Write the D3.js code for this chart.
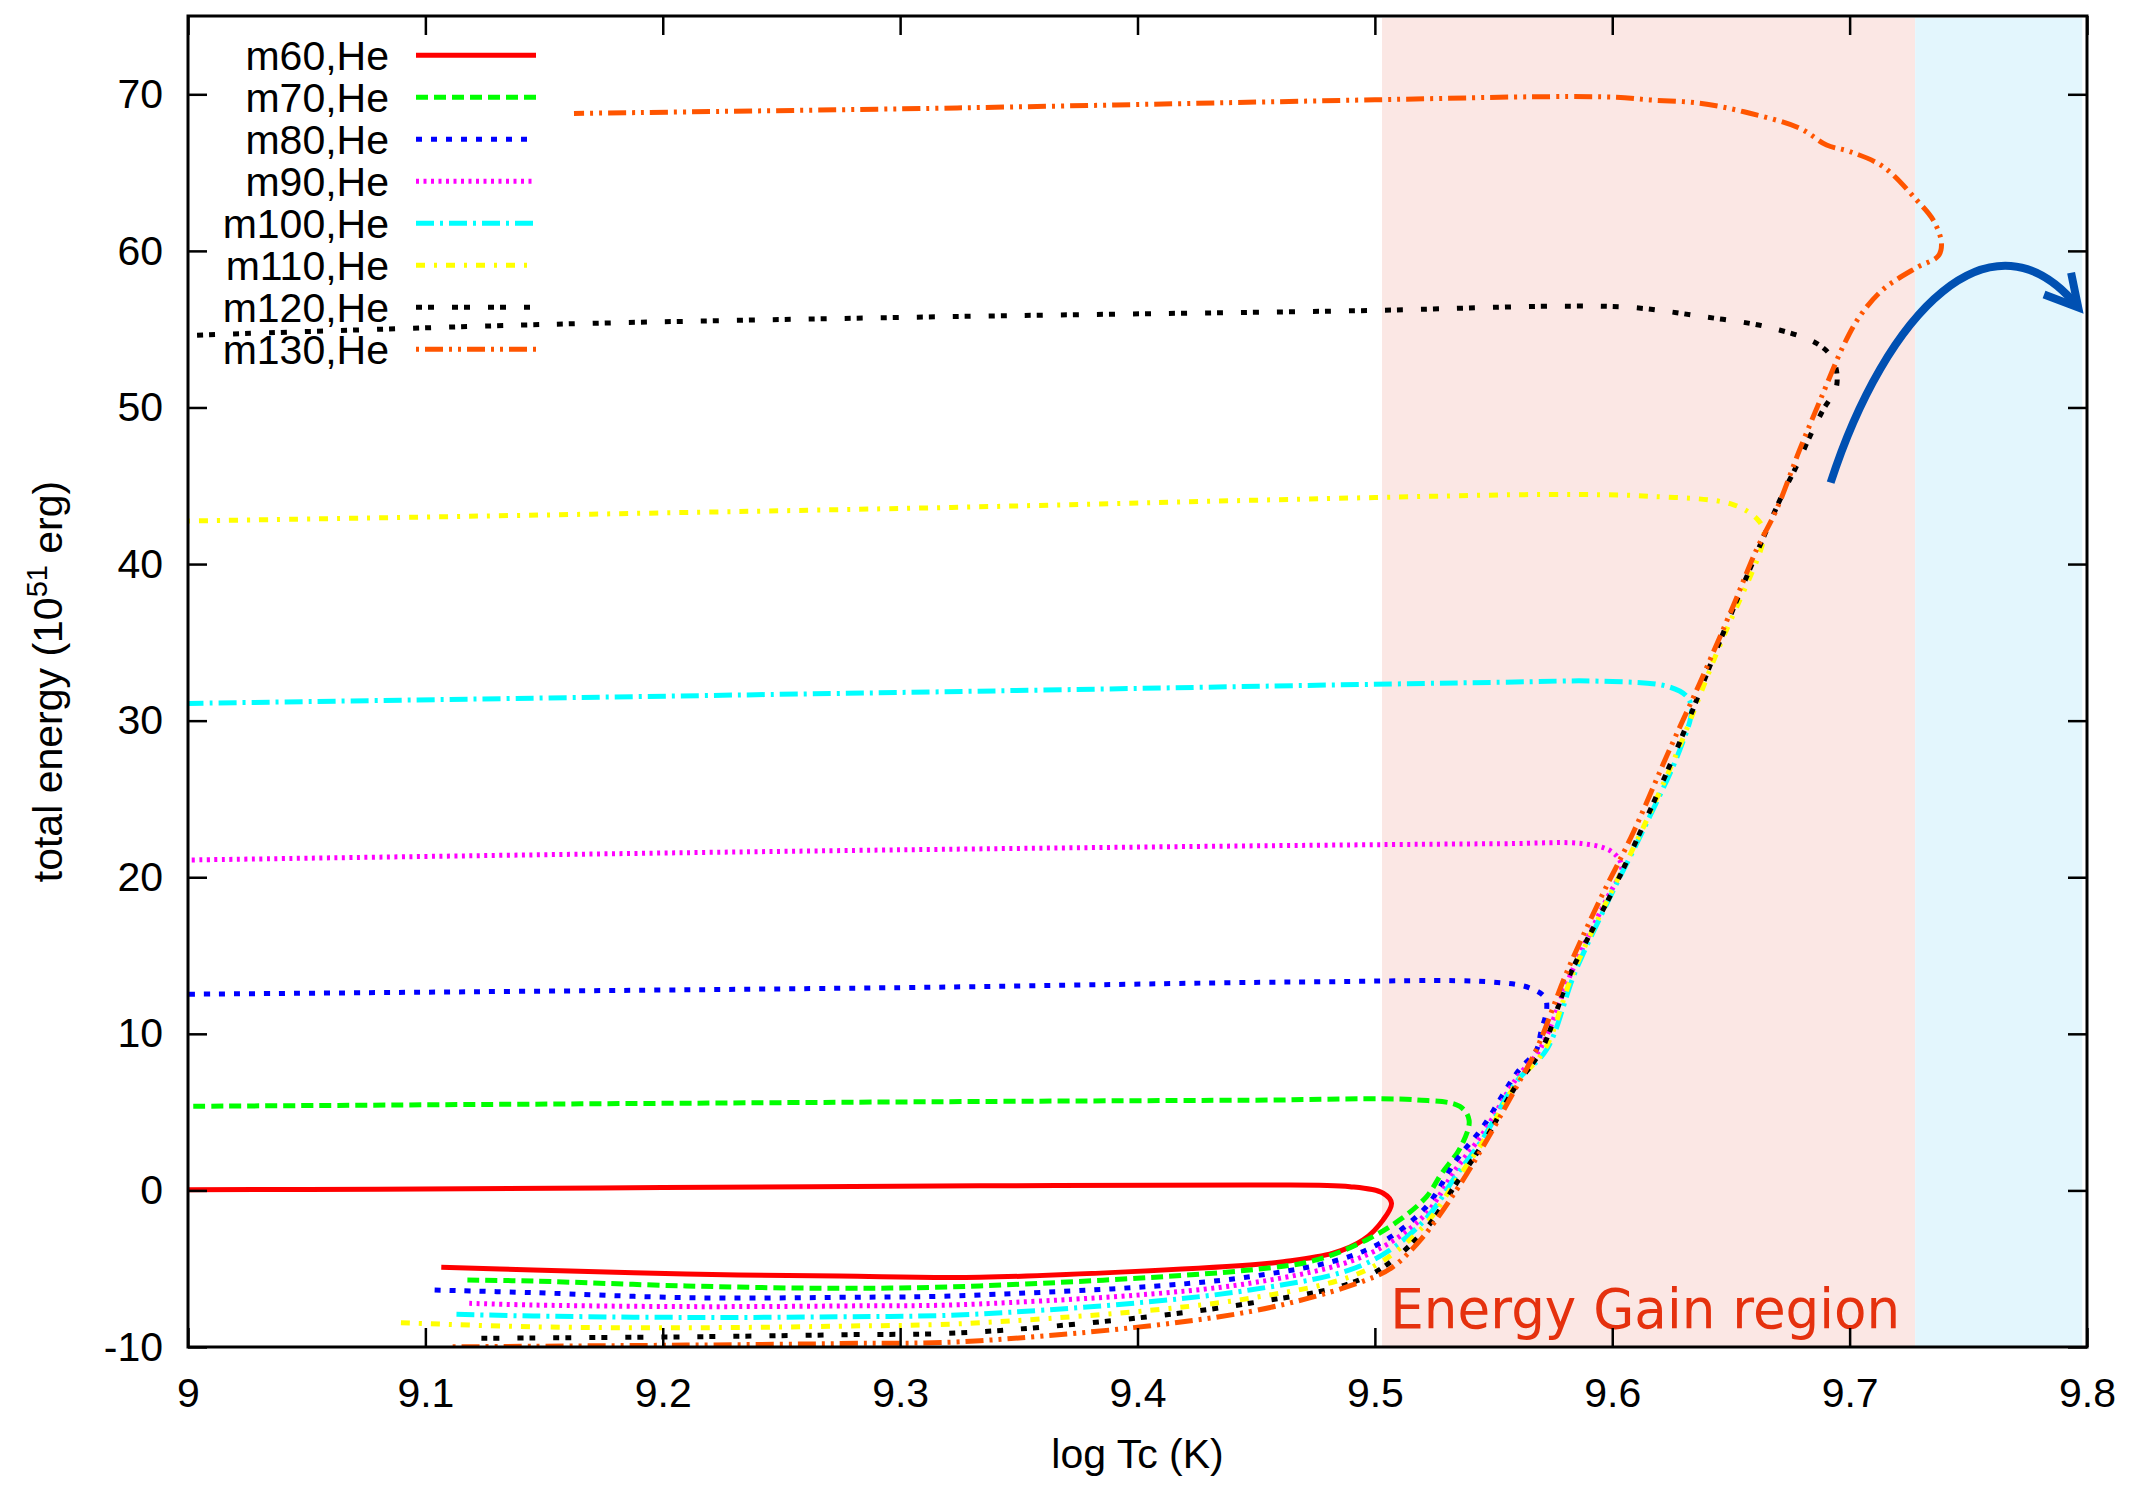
<!DOCTYPE html>
<html>
<head>
<meta charset="utf-8">
<script src="https://cdn.jsdelivr.net/npm/d3@7"></script>
<style>
  body { margin: 0; background: #ffffff; }
  svg { display: block; }
</style>
</head>
<body>
<svg id="chart" width="2145" height="1493"></svg>
<script>
// ---- data: total energy (1e51 erg) versus log central temperature ----
const seriesNames = ["m60,He", "m70,He", "m80,He", "m90,He", "m100,He", "m110,He", "m120,He", "m130,He"];

const m60 = [[9.1067,-4.91],[9.1454,-5.08],[9.2098,-5.34],[9.2743,-5.47],[9.3336,-5.55],[9.4473,-4.76],[9.4614,-4.55],[9.4824,-4.01],[9.4951,-3.16],[9.5035,-1.88],[9.507,-0.82],[9.5035,-0.18],[9.4895,0.24],[9.4473,0.35],[9.3336,0.29],[9.2,0.18],[9.08,0.08],[9.0,0.05]];

const m70 = [[9.1177,-5.72],[9.1454,-5.79],[9.2098,-6.1],[9.2743,-6.25],[9.3336,-6.1],[9.4473,-5.08],[9.4754,-4.44],[9.4965,-3.16],[9.5105,-1.88],[9.5218,-0.39],[9.528,1.05],[9.5361,2.76],[9.5397,4.47],[9.5358,5.36],[9.5176,5.78],[9.4473,5.76],[9.3,5.65],[9.0,5.37]];

const m80 = [[9.1039,-6.36],[9.1454,-6.53],[9.2098,-6.85],[9.2743,-6.83],[9.3336,-6.68],[9.4473,-5.51],[9.4965,-3.8],[9.5204,-1.25],[9.5344,1.95],[9.5456,4.08],[9.5597,7.49],[9.5681,8.98],[9.5699,10.1],[9.5724,11.58],[9.5716,12.32],[9.5651,12.94],[9.549,13.31],[9.4684,13.31],[9.3,12.95],[9.0,12.53]];

const m90 = [[9.1185,-7.21],[9.1454,-7.32],[9.2098,-7.42],[9.2743,-7.38],[9.3336,-7.25],[9.4473,-5.93],[9.4965,-4.12],[9.5204,-1.67],[9.5344,1.42],[9.5456,3.65],[9.5597,7.17],[9.5695,9.0],[9.5827,13.88],[9.5975,18.56],[9.6039,20.47],[9.6032,21.07],[9.599,21.71],[9.5878,22.14],[9.5527,22.14],[9.3,21.75],[9.0,21.1]];

const m100 = [[9.1131,-7.91],[9.1454,-8.02],[9.2098,-8.11],[9.2743,-8.07],[9.3336,-7.89],[9.4473,-6.36],[9.4965,-4.65],[9.5204,-1.99],[9.5344,0.99],[9.5456,3.33],[9.5597,6.96],[9.5723,8.98],[9.5842,13.88],[9.5985,18.56],[9.6125,22.84],[9.6285,28.15],[9.6334,30.7],[9.6313,31.56],[9.6229,32.2],[9.5948,32.52],[9.5527,32.45],[9.3,31.8],[9.0,31.1]];

const m110 = [[9.0897,-8.45],[9.1454,-8.71],[9.2098,-8.77],[9.2743,-8.67],[9.3336,-8.45],[9.4473,-6.89],[9.4965,-5.08],[9.5204,-2.31],[9.5344,0.67],[9.5456,3.12],[9.5597,6.85],[9.5715,8.98],[9.5835,13.88],[9.598,18.56],[9.612,22.84],[9.6278,28.15],[9.6446,34.54],[9.6626,40.93],[9.664,42.0],[9.6615,42.8],[9.6509,43.8],[9.6158,44.33],[9.5737,44.44],[9.5,44.25],[9.3,43.55],[9.0,42.75]];

const m120 = [[9.1236,-9.44],[9.1454,-9.42],[9.2098,-9.35],[9.2743,-9.22],[9.3336,-9.03],[9.4473,-7.21],[9.4965,-5.51],[9.5204,-2.63],[9.5344,0.46],[9.5456,3.01],[9.5597,6.74],[9.5702,8.98],[9.5825,13.88],[9.6018,19.63],[9.6271,28.15],[9.6439,34.54],[9.6615,40.93],[9.672,44.55],[9.6776,46.25],[9.6833,48.17],[9.6889,49.87],[9.6945,51.36],[9.693,53.07],[9.6861,54.09],[9.665,55.15],[9.6369,55.83],[9.6088,56.38],[9.5779,56.47],[9.5,56.2],[9.32,55.8],[9.15,55.3],[9.0,54.6]];

const m130 = [[9.1115,-9.99],[9.1454,-9.95],[9.2098,-9.88],[9.2743,-9.78],[9.3336,-9.6],[9.4473,-7.74],[9.4965,-5.72],[9.5077,-4.87],[9.5204,-2.95],[9.5344,0.03],[9.5456,2.8],[9.5597,6.63],[9.568,8.98],[9.5807,13.88],[9.5948,18.56],[9.6088,22.84],[9.6229,27.73],[9.6369,32.41],[9.6509,37.31],[9.6608,40.93],[9.6692,43.48],[9.679,47.32],[9.6889,50.94],[9.6973,53.92],[9.7043,55.83],[9.7141,57.54],[9.7282,58.93],[9.7373,59.67],[9.7387,60.48],[9.7352,61.97],[9.7282,63.25],[9.7141,65.38],[9.7001,66.34],[9.6903,66.76],[9.679,67.83],[9.658,68.79],[9.6369,69.43],[9.6158,69.64],[9.6018,69.81],[9.5737,69.85],[9.5,69.65],[9.324,69.13],[9.1626,68.78]];

const seriesData = [m60, m70, m80, m90, m100, m110, m120, m130];

const xTickValues = [9, 9.1, 9.2, 9.3, 9.4, 9.5, 9.6, 9.7, 9.8];
const yTickValues = [-10, 0, 10, 20, 30, 40, 50, 60, 70];

// shaded bands in log Tc
const gainBand = [9.503, 9.7276];
const escapeBand = [9.7276, 9.798];

// curved arrow annotation: cubic Bezier (start, control 1, control 2, end) and open head
const arrowBezier = [[9.692, 45.2], [9.715, 56.0], [9.760, 63.2], [9.7963, 56.39]];
const arrowHead = [[9.7819, 57.22], [9.7963, 56.39], [9.7933, 58.6]];

// ---- styles ----
const seriesColors = ["#ff0000", "#00ff00", "#0000ff", "#ff00ff", "#00ffff", "#ffff00", "#000000", "#ff5500"];
const seriesDash = [null, "12,6", "6,9", "3,4.5", "18,6,3,6", "9,9,3,9", "6,6,6,18", "3,6,18,6,3,6"];
const FONT = "'Liberation Sans', Arial, Helvetica, sans-serif";
const FS = 41;
const LW = 5;

const margin = { left: 188, right: 2087, top: 16, bottom: 1347 };
const svg = d3.select("#chart");

const x = d3.scaleLinear().domain([9, 9.8]).range([margin.left, margin.right]);
const y = d3.scaleLinear().domain([-10, 75]).range([margin.bottom, margin.top]);

svg.append("rect").attr("width", 2145).attr("height", 1493).attr("fill", "#ffffff");

svg.append("defs").append("clipPath").attr("id", "plotClip")
  .append("rect")
  .attr("x", margin.left).attr("y", margin.top)
  .attr("width", margin.right - margin.left).attr("height", margin.bottom - margin.top);

// background bands
svg.append("rect")
  .attr("x", x(gainBand[0])).attr("y", margin.top + 2)
  .attr("width", x(gainBand[1]) - x(gainBand[0]))
  .attr("height", margin.bottom - margin.top - 2)
  .attr("fill", "#fbe7e4");
svg.append("rect")
  .attr("x", x(escapeBand[0])).attr("y", margin.top + 2)
  .attr("width", x(escapeBand[1]) - x(escapeBand[0]))
  .attr("height", margin.bottom - margin.top - 2)
  .attr("fill", "#e3f6fd");

// band label
svg.append("text")
  .attr("x", x(9.5065)).attr("y", y(-8.8))
  .attr("font-family", "'DejaVu Sans', Verdana, sans-serif")
  .attr("font-size", 55)
  .attr("fill", "#e5310e")
  .attr("textLength", 510)
  .attr("lengthAdjust", "spacingAndGlyphs")
  .text("Energy Gain region");

// series curves
const line = d3.line()
  .x(d => x(d[0]))
  .y(d => y(d[1]))
  .curve(d3.curveCatmullRom.alpha(0.5));

const plot = svg.append("g").attr("clip-path", "url(#plotClip)");
seriesData.forEach((pts, i) => {
  plot.append("path")
    .attr("d", line(pts))
    .attr("fill", "none")
    .attr("stroke", seriesColors[i])
    .attr("stroke-width", LW)
    .attr("stroke-dasharray", seriesDash[i])
    .attr("stroke-linecap", "butt")
    .attr("stroke-linejoin", "round");
});

// arrow annotation
const ap = d3.path();
const [a0, a1, a2, a3] = arrowBezier;
ap.moveTo(x(a0[0]), y(a0[1]));
ap.bezierCurveTo(x(a1[0]), y(a1[1]), x(a2[0]), y(a2[1]), x(a3[0]), y(a3[1]));
svg.append("path")
  .attr("d", ap.toString())
  .attr("fill", "none")
  .attr("stroke", "#0050b2")
  .attr("stroke-width", 8);
svg.append("path")
  .attr("d", d3.line().x(d => x(d[0])).y(d => y(d[1]))(arrowHead))
  .attr("fill", "none")
  .attr("stroke", "#0050b2")
  .attr("stroke-width", 8)
  .attr("stroke-linejoin", "miter");

// axes with inward ticks on all four sides
function styleAxis(g) {
  g.selectAll(".domain").remove();
  g.selectAll(".tick line").attr("stroke", "#000").attr("stroke-width", 2.5);
  g.selectAll(".tick text").attr("font-family", FONT).attr("font-size", FS).attr("fill", "#000");
}
const plain = d => String(+d.toFixed(1));
svg.append("g").attr("transform", `translate(0,${margin.bottom})`)
  .call(d3.axisBottom(x).tickValues(xTickValues).tickFormat(plain)
    .tickSizeInner(-19).tickSizeOuter(0).tickPadding(31))
  .call(styleAxis);
svg.append("g").attr("transform", `translate(0,${margin.top})`)
  .call(d3.axisTop(x).tickValues(xTickValues).tickFormat("").tickSizeInner(-19).tickSizeOuter(0))
  .call(styleAxis);
svg.append("g").attr("transform", `translate(${margin.left},0)`)
  .call(d3.axisLeft(y).tickValues(yTickValues).tickFormat(plain)
    .tickSizeInner(-19).tickSizeOuter(0).tickPadding(25))
  .call(styleAxis);
svg.append("g").attr("transform", `translate(${margin.right},0)`)
  .call(d3.axisRight(y).tickValues(yTickValues).tickFormat("").tickSizeInner(-19).tickSizeOuter(0))
  .call(styleAxis);

// frame
svg.append("rect")
  .attr("x", margin.left).attr("y", margin.top)
  .attr("width", margin.right - margin.left).attr("height", margin.bottom - margin.top)
  .attr("fill", "none").attr("stroke", "#000").attr("stroke-width", 3);

// axis titles
svg.append("text")
  .attr("x", (margin.left + margin.right) / 2).attr("y", 1468)
  .attr("text-anchor", "middle")
  .attr("font-family", FONT).attr("font-size", FS)
  .text("log Tc (K)");

const yTitle = svg.append("text")
  .attr("transform", `translate(62,${(margin.top + margin.bottom) / 2}) rotate(-90)`)
  .attr("text-anchor", "middle")
  .attr("font-family", FONT).attr("font-size", FS);
yTitle.append("tspan").text("total energy (10");
yTitle.append("tspan").attr("font-size", 29).attr("dy", -15).text("51");
yTitle.append("tspan").attr("dy", 15).text(" erg)");

// legend
const legend = svg.append("g");
seriesNames.forEach((name, i) => {
  const cy = 55.3 + i * 42;
  legend.append("text")
    .attr("x", 389).attr("y", cy + 14.5)
    .attr("text-anchor", "end")
    .attr("font-family", FONT).attr("font-size", FS)
    .text(name);
  legend.append("line")
    .attr("x1", 416).attr("x2", 536)
    .attr("y1", cy).attr("y2", cy)
    .attr("stroke", seriesColors[i])
    .attr("stroke-width", LW)
    .attr("stroke-dasharray", seriesDash[i]);
});
</script>
</body>
</html>
